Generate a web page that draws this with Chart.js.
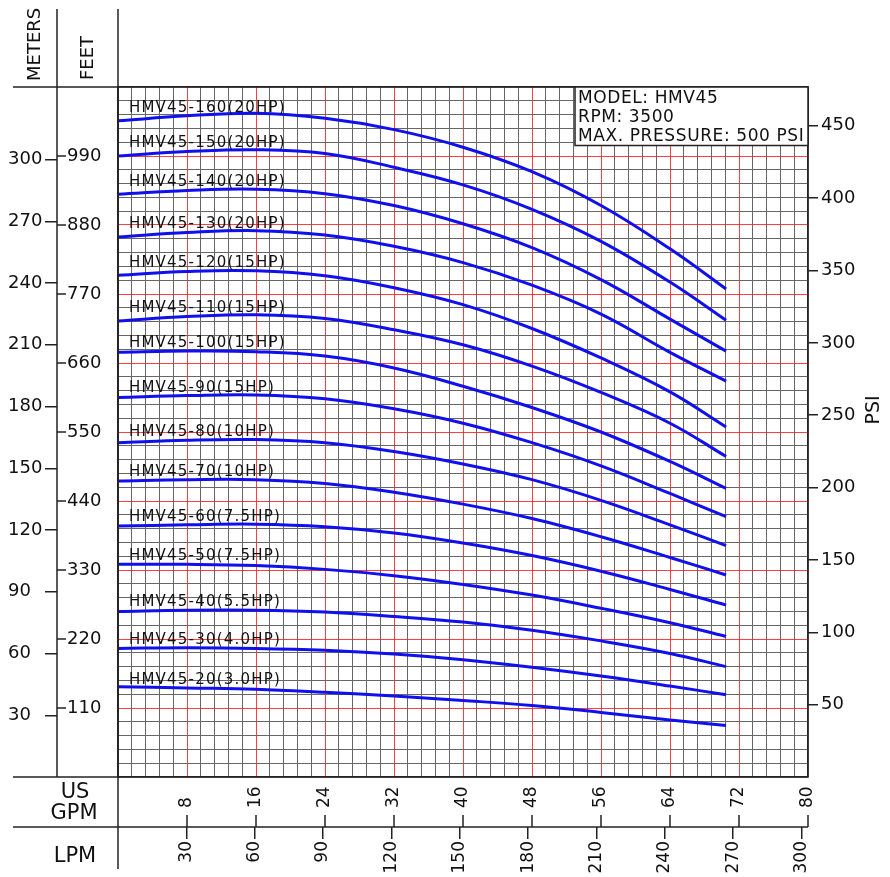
<!DOCTYPE html>
<html>
<head>
<meta charset="utf-8">
<title>HMV45 pump curves</title>
<script src="https://cdn.jsdelivr.net/npm/chart.js@4.4.1/dist/chart.umd.min.js"></script>
<style>
    html, body { margin: 0; padding: 0; background: #fff; }
    #wrap { width: 890px; height: 877px; }
</style>
</head>
<body>
<div id="wrap"><canvas id="pumpChart" width="890" height="877"></canvas></div>
<script>
const flowGpm = [0, 8, 16, 24, 32, 40, 48, 56, 64, 70.5];

// Head in feet, one array per model
const head160 = [1046, 1054, 1058, 1050, 1032, 1004, 965, 911, 842, 778];
const head150 = [990, 997, 1000, 994, 972, 944, 905, 854, 789, 728];
const head140 = [929, 935, 937, 930, 911, 882, 844, 793, 730, 679];
const head130 = [861, 868, 871, 864, 846, 820, 784, 738, 677, 631];
const head120 = [800, 806, 807, 799, 780, 753, 715, 668, 614, 558];
const head110 = [727, 734, 737, 731, 713, 689, 655, 613, 564, 511];
const head100 = [677, 679, 678, 671, 652, 623, 589, 550, 503, 460];
const head90 = [605, 608, 609, 603, 587, 564, 533, 496, 452, 415];
const head80 = [533, 537, 538, 533, 519, 499, 474, 441, 402, 369];
const head70 = [472, 474, 474, 468, 454, 435, 412, 383, 350, 322];
const head60 = [400, 402, 403, 399, 389, 373, 353, 328, 299, 274];
const head50 = [339, 339, 337, 331, 321, 307, 290, 269, 246, 224];
const head40 = [264, 266, 266, 263, 256, 247, 234, 217, 197, 176];
const head30 = [205, 206, 205, 202, 196, 187, 175, 161, 145, 131];
const head20 = [144, 142, 140, 135, 129, 122, 114, 103, 91, 82];

const curveLabels = [
    'HMV45-160(20HP)', 'HMV45-150(20HP)', 'HMV45-140(20HP)', 'HMV45-130(20HP)',
    'HMV45-120(15HP)', 'HMV45-110(15HP)', 'HMV45-100(15HP)', 'HMV45-90(15HP)',
    'HMV45-80(10HP)', 'HMV45-70(10HP)', 'HMV45-60(7.5HP)', 'HMV45-50(7.5HP)',
    'HMV45-40(5.5HP)', 'HMV45-30(4.0HP)', 'HMV45-20(3.0HP)'
];
const curveHeads = [head160, head150, head140, head130, head120, head110, head100,
    head90, head80, head70, head60, head50, head40, head30, head20];

// Axis tick labels
const gpmTicks = [8, 16, 24, 32, 40, 48, 56, 64, 72, 80];
const lpmTicks = [30, 60, 90, 120, 150, 180, 210, 240, 270, 300];
const meterTicks = [30, 60, 90, 120, 150, 180, 210, 240, 270, 300];
const feetTicks = [110, 220, 330, 440, 550, 660, 770, 880, 990];
const psiTicks = [50, 100, 150, 200, 250, 300, 350, 400, 450];

const infoLines = ['MODEL: HMV45', 'RPM: 3500', 'MAX. PRESSURE: 500 PSI'];

// Axis ranges and unit conversions
const GPM_MAX = 80;
const FT_MAX = 1100;
const FT_PER_M = 3.28084;
const FT_PER_PSI = 2.307;
const LPM_PER_GPM = 3.78541;
const GRID_DIV = 50;

const FONT = '"DejaVu Sans", sans-serif';
const INK = '#111';
const FRAME = '#222';

Chart.defaults.font.family = FONT;

function gridSteps(max) {
    const out = [];
    for (let i = 0; i <= GRID_DIV; i++) out.push({ value: max * i / GRID_DIV });
    return out;
}

function gridColor(ctx) {
    const i = ctx.index;
    if (i === 0 || i === GRID_DIV) return '#333';
    return i % 5 === 0 ? 'rgba(255, 30, 30, 0.85)' : '#666';
}

function gridWidth(ctx) {
    return (ctx.index === 0 || ctx.index === GRID_DIV) ? 1.5 : 1;
}

function line(ctx, x1, y1, x2, y2) {
    ctx.beginPath();
    ctx.moveTo(x1, y1);
    ctx.lineTo(x2, y2);
    ctx.stroke();
}

const decorPlugin = {
    id: 'pumpDecor',
    afterDatasetsDraw(chart) {
        const ctx = chart.ctx;
        ctx.save();
        ctx.font = '15px ' + FONT;
        ctx.letterSpacing = '1.2px';
        ctx.fillStyle = INK;
        ctx.textAlign = 'left';
        ctx.textBaseline = 'middle';
        chart.data.datasets.forEach((ds, i) => {
            const pt = chart.getDatasetMeta(i).data[1];
            ctx.fillText(ds.label, chart.chartArea.left + 11, pt.y - 8);
        });
        ctx.restore();
    },
    afterDraw(chart) {
        const { ctx, chartArea: area, scales } = chart;
        const xs = scales.x, ys = scales.y, ms = scales.m, ls = scales.lpm;
        ctx.save();

        // frame lines
        ctx.strokeStyle = FRAME;
        ctx.lineWidth = 1.5;
        ctx.strokeRect(area.left, area.top, area.right - area.left, area.bottom - area.top);
        line(ctx, 13, area.top, area.left, area.top);
        line(ctx, 13, area.bottom, area.left, area.bottom);
        line(ctx, 13, ls.top, area.right, ls.top);
        line(ctx, ms.right, 9, ms.right, area.bottom);
        line(ctx, area.left, 9, area.left, 869);

        // feet ticks + labels
        ctx.fillStyle = INK;
        ctx.font = '18px ' + FONT;
        ctx.textAlign = 'left';
        ctx.textBaseline = 'middle';
        feetTicks.forEach(v => {
            const py = ys.getPixelForValue(v);
            line(ctx, ms.right, py, ms.right + 9, py);
            ctx.fillText(String(v), ms.right + 10, py);
        });

        // GPM ticks + rotated labels
        ctx.font = '17px ' + FONT;
        gpmTicks.forEach(v => {
            const px = xs.getPixelForValue(v);
            line(ctx, px, ls.top - 12, px, ls.top);
            ctx.save();
            ctx.translate(px, ls.top - 19);
            ctx.rotate(-Math.PI / 2);
            ctx.textAlign = 'left';
            ctx.fillText(String(v), 0, 0);
            ctx.restore();
        });

        // column headers
        ctx.font = '18px ' + FONT;
        [['METERS', 35, 81], ['FEET', 88.5, 80]].forEach(([t, x, y]) => {
            ctx.save();
            ctx.translate(x, y);
            ctx.rotate(-Math.PI / 2);
            ctx.textAlign = 'left';
            ctx.fillText(t, 0, 0);
            ctx.restore();
        });
        ctx.save();
        ctx.translate(874, 410);
        ctx.rotate(-Math.PI / 2);
        ctx.font = '19px ' + FONT;
        ctx.textAlign = 'center';
        ctx.fillText('PSI', 0, 0);
        ctx.restore();

        ctx.font = '21px ' + FONT;
        ctx.textAlign = 'center';
        ctx.fillText('US', 75, 793);
        ctx.fillText('GPM', 74, 814);
        ctx.fillText('LPM', 75, 857);

        // info box
        const bx = area.right - 233, by = area.top, bw = 233, bh = 58.5;
        ctx.fillStyle = '#fff';
        ctx.fillRect(bx, by, bw, bh);
        ctx.strokeRect(bx, by, bw, bh);
        ctx.fillStyle = INK;
        ctx.font = '17px ' + FONT;
        ctx.letterSpacing = '0.6px';
        ctx.textAlign = 'left';
        infoLines.forEach((t, i) => ctx.fillText(t, bx + 3, by + 11.5 + i * 19.2));

        ctx.restore();
    }
};

const datasets = curveLabels.map((label, i) => ({
    label: label,
    data: flowGpm.map((q, j) => ({ x: q, y: curveHeads[i][j] })),
    borderColor: '#1010ee',
    borderWidth: 3,
    pointRadius: 0,
    fill: false,
    tension: 0.4
}));

new Chart(document.getElementById('pumpChart'), {
    type: 'line',
    data: { datasets: datasets },
    options: {
        responsive: false,
        animation: false,
        events: [],
        layout: { padding: { left: 8, top: 87, right: 0, bottom: 0 } },
        plugins: {
            legend: { display: false },
            tooltip: { enabled: false }
        },
        scales: {
            x: {
                type: 'linear',
                position: 'bottom',
                weight: 0,
                min: 0,
                max: GPM_MAX,
                afterBuildTicks: s => { s.ticks = gridSteps(GPM_MAX); },
                afterFit: s => { s.height = 50; },
                grid: { color: gridColor, lineWidth: gridWidth, drawTicks: false },
                border: { display: false },
                ticks: { display: false }
            },
            lpm: {
                type: 'linear',
                position: 'bottom',
                weight: 1,
                min: 0,
                max: GPM_MAX * LPM_PER_GPM,
                afterBuildTicks: s => { s.ticks = lpmTicks.map(v => ({ value: v })); },
                afterFit: s => { s.height = 50; },
                grid: { drawOnChartArea: false, drawTicks: true, tickLength: 12, color: FRAME, lineWidth: 1.5 },
                border: { display: false },
                ticks: {
                    autoSkip: false, minRotation: 90, maxRotation: 90, padding: 2,
                    color: INK, font: { size: 17 }
                }
            },
            y: {
                type: 'linear',
                position: 'left',
                weight: 0,
                min: 0,
                max: FT_MAX,
                afterBuildTicks: s => { s.ticks = gridSteps(FT_MAX); },
                afterFit: s => { s.width = 61; },
                grid: { color: gridColor, lineWidth: gridWidth, drawTicks: false },
                border: { display: false },
                ticks: { display: false }
            },
            m: {
                type: 'linear',
                position: 'left',
                weight: 1,
                min: 0,
                max: FT_MAX / FT_PER_M,
                afterBuildTicks: s => { s.ticks = meterTicks.map(v => ({ value: v })); },
                afterFit: s => { s.width = 49; },
                grid: { drawOnChartArea: false, drawTicks: true, tickLength: 12, color: FRAME, lineWidth: 1.5 },
                border: { display: false },
                ticks: { autoSkip: false, crossAlign: 'far', color: INK, font: { size: 18 } }
            },
            psi: {
                type: 'linear',
                position: 'right',
                min: 0,
                max: FT_MAX / FT_PER_PSI,
                afterBuildTicks: s => { s.ticks = psiTicks.map(v => ({ value: v })); },
                afterFit: s => { s.width = 82; },
                grid: { drawOnChartArea: false, drawTicks: true, tickLength: 10, color: FRAME, lineWidth: 1.5 },
                border: { display: false },
                ticks: { autoSkip: false, padding: 3, color: INK, font: { size: 18 } }
            }
        }
    },
    plugins: [decorPlugin]
});
</script>
</body>
</html>
